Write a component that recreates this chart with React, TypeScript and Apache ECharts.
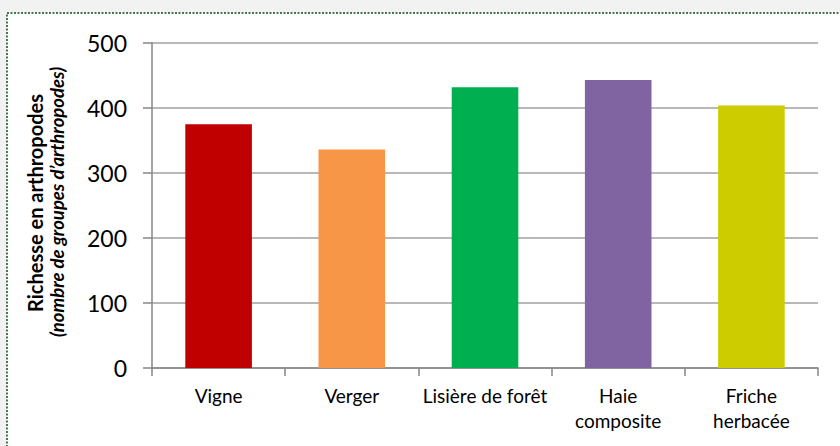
import React, { useEffect, useRef } from "react";
import * as echarts from "echarts";

const categories = ["Vigne", "Verger", "Lisière de forêt", "Haie\ncomposite", "Friche\nherbacée"];
const values = [375, 336, 432, 443, 404];
const colors = ["#c00000", "#f79646", "#00b050", "#8064a2", "#cccc00"];
const yTicks = [0, 100, 200, 300, 400, 500];
const yTitle = "Richesse en arthropodes";
const ySubtitle = "(nombre de groupes d’arthropodes)";

const FONT = "Lato, 'Open Sans', sans-serif";

export default function App() {
  const ref = useRef<HTMLDivElement>(null);
  useEffect(() => {
    document.body.style.margin = "0";
    const chart = echarts.init(ref.current!, null, { renderer: "svg" });
    chart.setOption({
      animation: false,
      backgroundColor: "#f2f2f2",
      graphic: [
        {
          type: "rect",
          z: -10,
          shape: { x: 7, y: 13, width: 900, height: 500 },
          style: { fill: "#ffffff", stroke: "#0d4d12", lineWidth: 1.5, lineDash: [2, 1.5] },
        },
        {
          type: "text",
          x: 35,
          y: 203,
          rotation: Math.PI / 2,
          style: {
            text: yTitle,
            font: `bold 20px ${FONT}`,
            fill: "#000",
            align: "center",
            verticalAlign: "middle",
          },
        },
        {
          type: "text",
          x: 57,
          y: 202,
          rotation: Math.PI / 2,
          style: {
            text: ySubtitle,
            font: `italic bold 18.5px ${FONT}`,
            fill: "#000",
            align: "center",
            verticalAlign: "middle",
          },
        },
      ],
      grid: { left: 152, right: 22, top: 43, bottom: 78 },
      xAxis: {
        type: "category",
        data: categories,
        axisLine: { lineStyle: { color: "#868686", width: 1.5 } },
        axisTick: { show: true, length: 8, lineStyle: { color: "#868686", width: 1.5 } },
        axisLabel: {
          color: "#000",
          fontFamily: FONT,
          fontSize: 19,
          margin: 15,
          lineHeight: 25,
          interval: 0,
        },
      },
      yAxis: {
        type: "value",
        min: 0,
        max: 500,
        interval: 100,
        axisLine: { show: true, lineStyle: { color: "#868686", width: 1.5 } },
        axisTick: { show: true, length: 9, lineStyle: { color: "#868686", width: 1.5 } },
        axisLabel: {
          color: "#000",
          fontFamily: FONT,
          fontSize: 23,
          margin: 25,
          formatter: (v: number) => (yTicks.includes(v) ? String(v) : ""),
        },
        splitLine: { lineStyle: { color: "#b8b8b8", width: 2 } },
      },
      series: [
        {
          type: "bar",
          barWidth: "50%",
          data: values.map((v, i) => ({ value: v, itemStyle: { color: colors[i] } })),
        },
      ],
    });
    return () => chart.dispose();
  }, []);
  return <div ref={ref} style={{ width: 840, height: 446 }} />;
}
